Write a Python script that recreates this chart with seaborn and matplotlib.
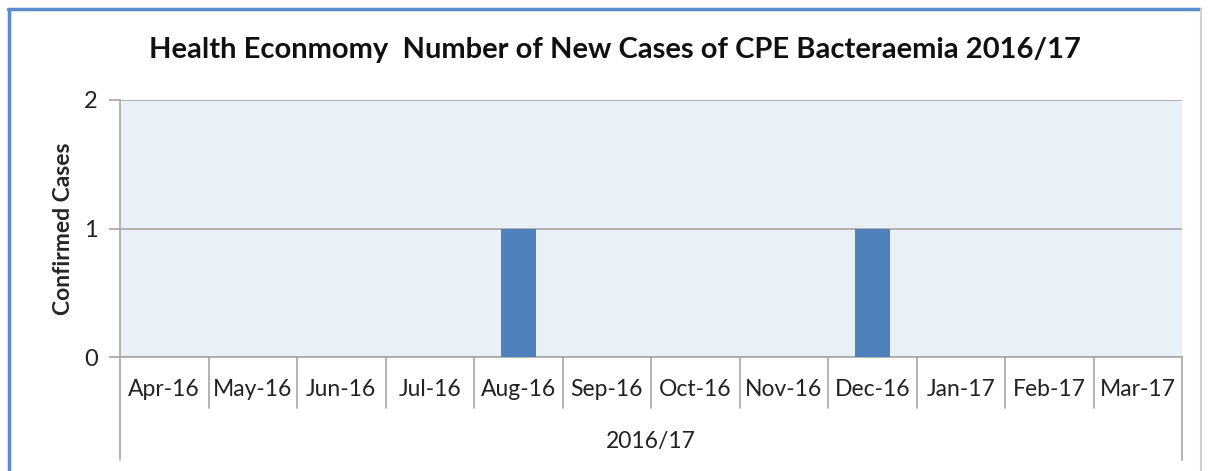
import pandas as pd
import matplotlib.pyplot as plt
import seaborn as sns
from matplotlib.lines import Line2D

# data
months = ['Apr-16', 'May-16', 'Jun-16', 'Jul-16', 'Aug-16', 'Sep-16',
          'Oct-16', 'Nov-16', 'Dec-16', 'Jan-17', 'Feb-17', 'Mar-17']
cases = [0, 0, 0, 0, 1, 0, 0, 0, 1, 0, 0, 0]
year_label = '2016/17'

df = pd.DataFrame({'month': months, 'cases': cases})

sns.set_style('white')
plt.rcParams['font.family'] = ['Lato', 'DejaVu Sans']

fig = plt.figure(figsize=(12.1, 4.71), dpi=100)
ax = fig.add_axes([120 / 1210, 1 - 357 / 471, 1062 / 1210, 257 / 471])
ax.set_facecolor('#EAF0F8')

sns.barplot(data=df, x='month', y='cases', color='#4F81BD', width=0.4,
            saturation=1, linewidth=0, ax=ax, zorder=3)

ax.set_ylim(0, 2)
ax.set_xlim(-0.5, len(months) - 0.5)
ax.set_yticks([0, 1, 2])
ax.yaxis.grid(True, color='#A6A6A6', lw=1.2, zorder=1)
for s in ['top', 'right']:
    ax.spines[s].set_visible(False)
for s in ['left', 'bottom']:
    ax.spines[s].set_color('#A6A6A6')
    ax.spines[s].set_linewidth(1.2)
ax.tick_params(axis='y', length=8, color='#A6A6A6', width=1.2,
               labelsize=17, pad=8, left=True, labelcolor='#222222')
ax.tick_params(axis='x', length=0, labelsize=16.5, pad=16, labelcolor='#222222')
ax.set_xlabel('')
ax.set_ylabel('Confirmed Cases', fontsize=16.5, fontweight='bold', labelpad=7)

# category separators below the axis (two-level category axis)
trans = ax.get_xaxis_transform()
for i in range(len(months) + 1):
    xb = i - 0.5
    low = -0.40 if i in (0, len(months)) else -0.20
    ax.add_line(Line2D([xb, xb], [0, low], transform=trans, color='#A6A6A6',
                       lw=1.2, clip_on=False))
ax.text((len(months) - 1) / 2, -0.33, year_label, transform=trans,
        ha='center', va='center', fontsize=16.5, color='#222222')

fig.text(0.508, 1 - 50 / 471,
         'Health Econmomy  Number of New Cases of CPE Bacteraemia 2016/17',
         ha='center', va='center', fontsize=21, fontweight='bold', color='#111111')

# chart frame
fig.add_artist(Line2D([8 / 1210, 1200 / 1210], [1 - 9 / 471] * 2,
                      transform=fig.transFigure, color='#5B8BC8', lw=2.5))
fig.add_artist(Line2D([9 / 1210] * 2, [0, 1 - 9 / 471],
                      transform=fig.transFigure, color='#5B8BC8', lw=2.5))
fig.add_artist(Line2D([1201 / 1210] * 2, [0, 1 - 9 / 471],
                      transform=fig.transFigure, color='#D0D0D0', lw=1.5))

fig.savefig('out.png', dpi=100)
